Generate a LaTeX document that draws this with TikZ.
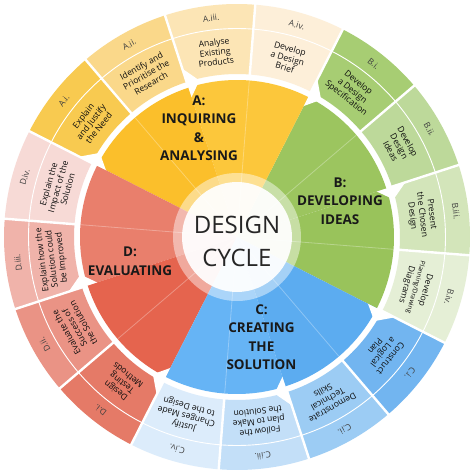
\documentclass[tikz,border=0pt]{standalone}
\usepackage{fontspec}
\setmainfont{Open Sans}
\usepackage{tikz}

\definecolor{ain1}{HTML}{FBBF2B}
\definecolor{ain2}{HTML}{FCC73B}
\definecolor{bin1}{HTML}{9CC55F}
\definecolor{bin2}{HTML}{99C35B}
\definecolor{cin1}{HTML}{5CACF0}
\definecolor{cin2}{HTML}{66B4F5}
\definecolor{din1}{HTML}{E97F6C}
\definecolor{din2}{HTML}{E5644E}
\definecolor{aring1}{HTML}{F8CA50}
\definecolor{aring2}{HTML}{FAD88A}
\definecolor{aring3}{HTML}{FCE5B5}
\definecolor{aring4}{HTML}{FDEFD9}
\definecolor{bring1}{HTML}{A7CD73}
\definecolor{bring2}{HTML}{BDD99A}
\definecolor{bring3}{HTML}{D3E5BA}
\definecolor{bring4}{HTML}{E5EFD6}
\definecolor{cring1}{HTML}{72B5F0}
\definecolor{cring2}{HTML}{9CCCF4}
\definecolor{cring3}{HTML}{C3DFF8}
\definecolor{cring4}{HTML}{DCECFB}
\definecolor{dring1}{HTML}{E57A67}
\definecolor{dring2}{HTML}{EA9385}
\definecolor{dring3}{HTML}{F0B3AA}
\definecolor{dring4}{HTML}{F7DAD6}

\tikzstyle{segcode} = [font=\fontsize{8.5}{8.5}\selectfont, text=black!75, inner sep=0pt]
\tikzstyle{segtask} = [font=\fontsize{8.6}{9.8}\selectfont, align=center, inner sep=0pt, text=black!95]
\tikzstyle{stagelabel} = [font=\fontsize{13.5}{18.5}\selectfont\bfseries, align=center, text=black!90]

\begin{document}
\begin{tikzpicture}[x=1pt,y=1pt]
    \fill[white] (-237,-237) rectangle (237,237);
    \useasboundingbox (-237,-237) rectangle (237,237);

    % stage wedges, two halves per stage
    \foreach \a/\col in {-27/bin2, 18/bin1, 63/ain2, 108/ain1, 153/din1, 198/din2, 243/cin2, 288/cin1}{
        \fill[\col] (0,0) -- (\a:157) arc[start angle=\a, end angle=\a+45, radius=157] -- cycle;
        \draw[white, opacity=.3, line width=.8] (0,0) -- ({\a+22.5}:157);
    }

    % outer ring of tasks
    \foreach \m/\col/\cd/\txt [count=\i] in {
        6.75/bring3/B.iii./{Present\\the Chosen\\Design},
        29.25/bring2/B.ii./{Develop\\Design\\Ideas},
        51.75/bring1/B.i./{Develop\\a Design\\Specification},
        74.25/aring4/A.iv./{Develop\\a Design\\Brief},
        96.75/aring3/A.iii./{Analyse\\Existing\\Products},
        119.25/aring2/A.ii./{Identify and\\Prioritise the\\Research},
        141.75/aring1/A.i./{Explain\\and Justify\\the Need},
        164.25/dring4/D.iv./{Explain the\\Impact of the\\Solution},
        186.75/dring3/D.iii./{Explain how the\\Solution could\\be Improved},
        209.25/dring2/D.ii./{Evaluate the\\Success of\\the Solution},
        231.75/dring1/D.i./{Design\\Testing\\Methods},
        254.25/cring4/C.iv./{Justify\\Changes Made\\to the Design},
        276.75/cring3/C.iii./{Follow the\\plan to Make\\the Solution},
        299.25/cring2/C.ii./{Demonstrate\\Technical\\Skills},
        321.75/cring1/C.i./{Construct\\a Logical\\Plan},
        344.25/bring4/B.iv./{Develop\\{\fontsize{6.5}{7}\selectfont Planning/Drawing}\\Diagrams}}{
        \fill[\col] ({\m-11.25}:163) arc[start angle=\m-11.25, end angle=\m+11.25, radius=163]
            -- ({\m+11.25}:233) arc[start angle=\m+11.25, end angle=\m-11.25, radius=233] -- cycle;
        \node[segcode, rotate=\m-90] (code\i) at (\m:220.5) {\cd};
        \node[segtask, rotate=\m-90] (task\i) at (\m:186) {\txt};
    }
    \draw[white, line width=.9] (0,0) circle (208.5);
    \foreach \b in {18,40.5,...,360}
        \draw[white, line width=2.4] (\b:162) -- (\b:235);

    % clockwise pointers in the gap
    \foreach \b in {18,63,...,333}
        \fill[white] (\b:147) -- (\b:177) -- ({\b-4.5}:161) -- cycle;

    % centre
    \fill[white, opacity=.45] (0,0) circle (64);
    \fill[white, opacity=.93] (0,0) circle (55);
    \node[font=\fontsize{24}{33}\selectfont, text=black!85, align=center] (title) at (0,-4) {DESIGN\\CYCLE};

    \node[stagelabel] (stageA) at (-38,109) {A:\\INQUIRING\\\&\\ANALYSING};
    \node[stagelabel] (stageB) at (103,36) {B:\\DEVELOPING\\IDEAS};
    \node[stagelabel] (stageC) at (24.5,-100) {C:\\CREATING\\THE\\SOLUTION};
    \node[stagelabel] (stageD) at (-107,-24) {D:\\EVALUATING};
\end{tikzpicture}
\end{document}
